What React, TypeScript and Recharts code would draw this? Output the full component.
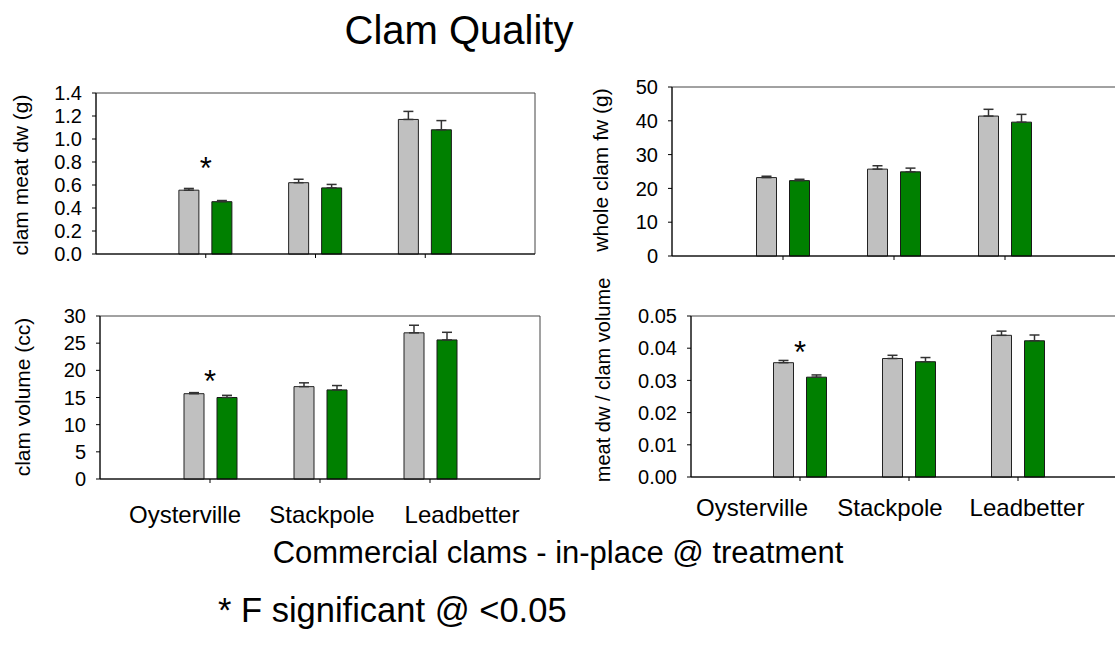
import { BarChart, Bar, XAxis, YAxis, ErrorBar, CartesianGrid, ReferenceDot } from "recharts";

const sites = ["Oysterville", "Stackpole", "Leadbetter"];

// clam meat dry weight (g)
const meatDwControl = [0.555, 0.62, 1.17];
const meatDwControlErr = [0.015, 0.03, 0.07];
const meatDwTreat = [0.455, 0.575, 1.08];
const meatDwTreatErr = [0.01, 0.03, 0.08];

// whole clam fresh weight (g)
const wholeFwControl = [23.2, 25.7, 41.4];
const wholeFwControlErr = [0.4, 1.0, 2.0];
const wholeFwTreat = [22.3, 24.9, 39.6];
const wholeFwTreatErr = [0.4, 1.1, 2.3];

// clam volume (cc)
const volumeControl = [15.7, 17.0, 26.9];
const volumeControlErr = [0.2, 0.7, 1.4];
const volumeTreat = [15.0, 16.4, 25.6];
const volumeTreatErr = [0.4, 0.8, 1.4];

// meat dw / clam volume
const ratioControl = [0.0355, 0.0368, 0.044];
const ratioControlErr = [0.0007, 0.001, 0.0013];
const ratioTreat = [0.031, 0.0358, 0.0423];
const ratioTreatErr = [0.0007, 0.0013, 0.0018];

const meatDwTicks = [0, 0.2, 0.4, 0.6, 0.8, 1.0, 1.2, 1.4];
const wholeFwTicks = [0, 10, 20, 30, 40, 50];
const volumeTicks = [0, 5, 10, 15, 20, 25, 30];
const ratioTicks = [0, 0.01, 0.02, 0.03, 0.04, 0.05];

const FONT = "'Liberation Sans', Arial, sans-serif";

interface PanelProps {
  left: number;
  top: number;
  plotW: number;
  plotH: number;
  control: number[];
  controlErr: number[];
  treat: number[];
  treatErr: number[];
  ticks: number[];
  digits: number;
  star?: number;
}

function Panel({ left, top, plotW, plotH, control, controlErr, treat, treatErr, ticks, digits, star }: PanelProps) {
  const axisW = 80;
  const mTop = 14;
  const max = ticks[ticks.length - 1];
  const data = sites.map((site, i) => ({
    site,
    control: control[i],
    controlErr: [0, controlErr[i]],
    treat: treat[i],
    treatErr: [0, treatErr[i]],
  }));
  return (
    <div style={{ position: "absolute", left: left - axisW, top: top - mTop }}>
      <BarChart
        width={axisW + plotW + 12}
        height={mTop + plotH + 10}
        data={data}
        margin={{ top: mTop, right: 12, left: 0, bottom: 0 }}
        barGap={13}
        barSize={20}
      >
        {/* plot frame */}
        <CartesianGrid
          stroke="#444"
          horizontalCoordinatesGenerator={({ offset }: any) => [offset.top, offset.top + offset.height]}
          verticalCoordinatesGenerator={({ offset }: any) => [offset.left, offset.left + offset.width]}
        />
        <XAxis
          dataKey="site"
          padding={{ left: plotW / 8, right: plotW / 8 }}
          tickFormatter={() => ""}
          height={10}
          tickSize={4}
          interval={0}
          axisLine={{ stroke: "#000" }}
          tickLine={{ stroke: "#000" }}
        />
        <YAxis
          domain={[0, max]}
          ticks={ticks}
          interval={0}
          width={axisW}
          tickSize={4}
          tickMargin={10}
          tickFormatter={(v: number) => v.toFixed(digits)}
          tick={{ fill: "#000", fontSize: 20, fontFamily: FONT }}
          axisLine={{ stroke: "#000" }}
          tickLine={{ stroke: "#000" }}
        />
        <Bar dataKey="control" fill="#c0c0c0" stroke="#222" isAnimationActive={false}>
          <ErrorBar dataKey="controlErr" width={5} stroke="#333" />
        </Bar>
        <Bar dataKey="treat" fill="#008000" stroke="#1a1a1a" isAnimationActive={false}>
          <ErrorBar dataKey="treatErr" width={5} stroke="#333" />
        </Bar>
        {star !== undefined && (
          <ReferenceDot
            x={sites[0]}
            y={star}
            r={0}
            label={{ value: "*", position: "center", fontSize: 31, fontFamily: FONT, fill: "#000" }}
          />
        )}
      </BarChart>
    </div>
  );
}

function Text({ x, y, size, children, center = true, rotate = false }: any) {
  return (
    <div
      style={{
        position: "absolute",
        left: x,
        top: y,
        fontFamily: FONT,
        fontSize: size,
        lineHeight: 1,
        whiteSpace: "nowrap",
        color: "#000",
        transform: rotate
          ? "translate(-50%, -50%) rotate(-90deg)"
          : center
          ? "translateX(-50%)"
          : undefined,
      }}
    >
      {children}
    </div>
  );
}

export default function App() {
  return (
    <div
      style={{
        position: "absolute",
        left: 0,
        top: 0,
        width: 1115,
        height: 646,
        overflow: "hidden",
        background: "#fff",
      }}
    >
      <Text x={459} y={10} size={40}>Clam Quality</Text>

      <Text x={20} y={175} size={21} rotate>clam meat dw (g)</Text>
      <Panel left={96} top={93} plotW={439} plotH={161}
        control={meatDwControl} controlErr={meatDwControlErr}
        treat={meatDwTreat} treatErr={meatDwTreatErr}
        ticks={meatDwTicks} digits={1} star={0.75} />

      <Text x={600} y={170} size={21} rotate>whole clam fw (g)</Text>
      <Panel left={672} top={87} plotW={444} plotH={169}
        control={wholeFwControl} controlErr={wholeFwControlErr}
        treat={wholeFwTreat} treatErr={wholeFwTreatErr}
        ticks={wholeFwTicks} digits={0} />

      <Text x={22} y={397} size={21} rotate>clam volume (cc)</Text>
      <Panel left={100} top={316} plotW={440} plotH={163}
        control={volumeControl} controlErr={volumeControlErr}
        treat={volumeTreat} treatErr={volumeTreatErr}
        ticks={volumeTicks} digits={0} star={18.1} />

      <Text x={603} y={380} size={20} rotate>meat dw / clam volume</Text>
      <Panel left={691} top={316} plotW={436} plotH={161}
        control={ratioControl} controlErr={ratioControlErr}
        treat={ratioTreat} treatErr={ratioTreatErr}
        ticks={ratioTicks} digits={2} star={0.0389} />

      {sites.map((s, i) => (
        <Text key={"bl" + s} x={[185, 322, 462][i]} y={503} size={24}>{s}</Text>
      ))}
      {sites.map((s, i) => (
        <Text key={"br" + s} x={[752, 890, 1027][i]} y={496} size={24}>{s}</Text>
      ))}

      <Text x={558} y={537} size={31}>Commercial clams - in-place @ treatment</Text>
      <Text x={218} y={593} size={34.5} center={false}>* F significant @ &lt;0.05</Text>
    </div>
  );
}
